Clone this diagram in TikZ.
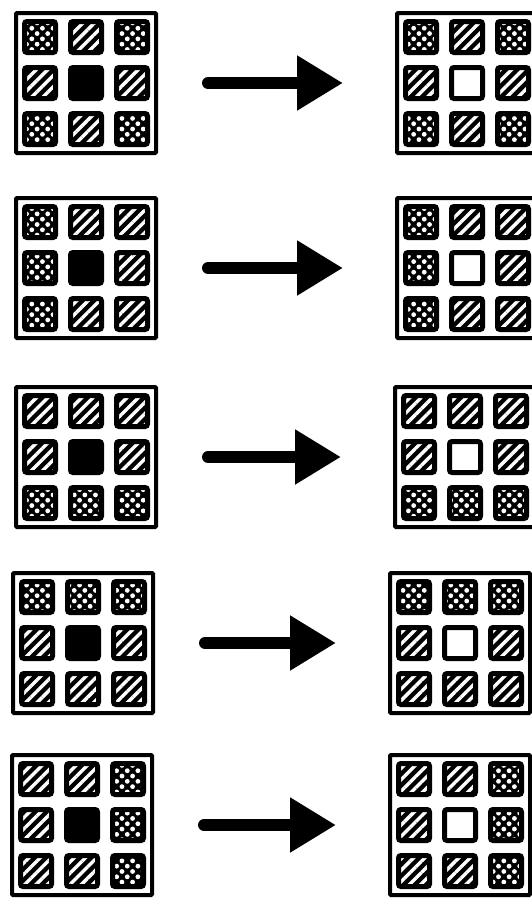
\documentclass[tikz,border=0pt]{standalone}
\usepackage{tikz}
\usetikzlibrary{arrows.meta,patterns.meta,calc}

% a 3x3 tray of tiles inside frame #1, tiles listed row by row
\newcommand{\tilegrid}[2]{%
  \foreach \kind [count=\i from 0] in {#2} {
    \pgfmathtruncatemacro{\row}{\i/3}
    \pgfmathtruncatemacro{\col}{mod(\i,3)}
    \node[\kind] (#1-\i) at ($(#1)+(\col*46-46,\row*46-46)$) {};
  }}

\begin{document}
\begin{tikzpicture}[x=1pt, y=-1pt,
        tray/.style={draw, line width=4pt, minimum size=140pt, inner sep=0pt, rounded corners=1pt},
        cell/.style={draw, line width=5pt, rounded corners=2.5pt, minimum size=31pt, inner sep=0pt},
        hcell/.style={cell, preaction={fill=black}, pattern={Lines[angle=45,distance=8pt,line width=3.4pt]}, pattern color=white},
        dcell/.style={cell, preaction={fill=black}, pattern={Dots[angle=45,distance=7.5pt,radius=2.4pt]}, pattern color=white},
        bcell/.style={cell, fill=black},
        wcell/.style={cell, fill=white},
        push/.style={line width=12pt, line cap=round, -{Triangle[length=46pt,width=52pt]}, shorten <=50pt, shorten >=52pt}]

        \clip (0,0) rectangle (532,898);

        % before
        \node[tray] (L1) at (86,83) {};
        \node[tray] (L2) at (86,268) {};
        \node[tray] (L3) at (86,457) {};
        \node[tray] (L4) at (83,643) {};
        \node[tray] (L5) at (82,825) {};

        % after
        \node[tray] (R1) at (467,83) {};
        \node[tray] (R2) at (467,268) {};
        \node[tray] (R3) at (465,457) {};
        \node[tray] (R4) at (460,643) {};
        \node[tray] (R5) at (460,825) {};

        \tilegrid{L1}{dcell,hcell,dcell,hcell,bcell,hcell,dcell,hcell,dcell}
        \tilegrid{R1}{dcell,hcell,dcell,hcell,wcell,hcell,dcell,hcell,dcell}
        \tilegrid{L2}{dcell,hcell,hcell,dcell,bcell,hcell,dcell,hcell,hcell}
        \tilegrid{R2}{dcell,hcell,hcell,dcell,wcell,hcell,dcell,hcell,hcell}
        \tilegrid{L3}{hcell,hcell,hcell,hcell,bcell,hcell,dcell,dcell,dcell}
        \tilegrid{R3}{hcell,hcell,hcell,hcell,wcell,hcell,dcell,dcell,dcell}
        \tilegrid{L4}{dcell,dcell,dcell,hcell,bcell,hcell,hcell,hcell,hcell}
        \tilegrid{R4}{dcell,dcell,dcell,hcell,wcell,hcell,hcell,hcell,hcell}
        \tilegrid{L5}{hcell,hcell,dcell,hcell,bcell,dcell,hcell,hcell,dcell}
        \tilegrid{R5}{hcell,hcell,dcell,hcell,wcell,dcell,hcell,hcell,dcell}

        \draw[push] (L1) -- (R1);
        \draw[push] (L2) -- (R2);
        \draw[push] (L3) -- (R3);
        \draw[push] (L4) -- (R4);
        \draw[push] (L5) -- (R5);
    \end{tikzpicture}
\end{document}
